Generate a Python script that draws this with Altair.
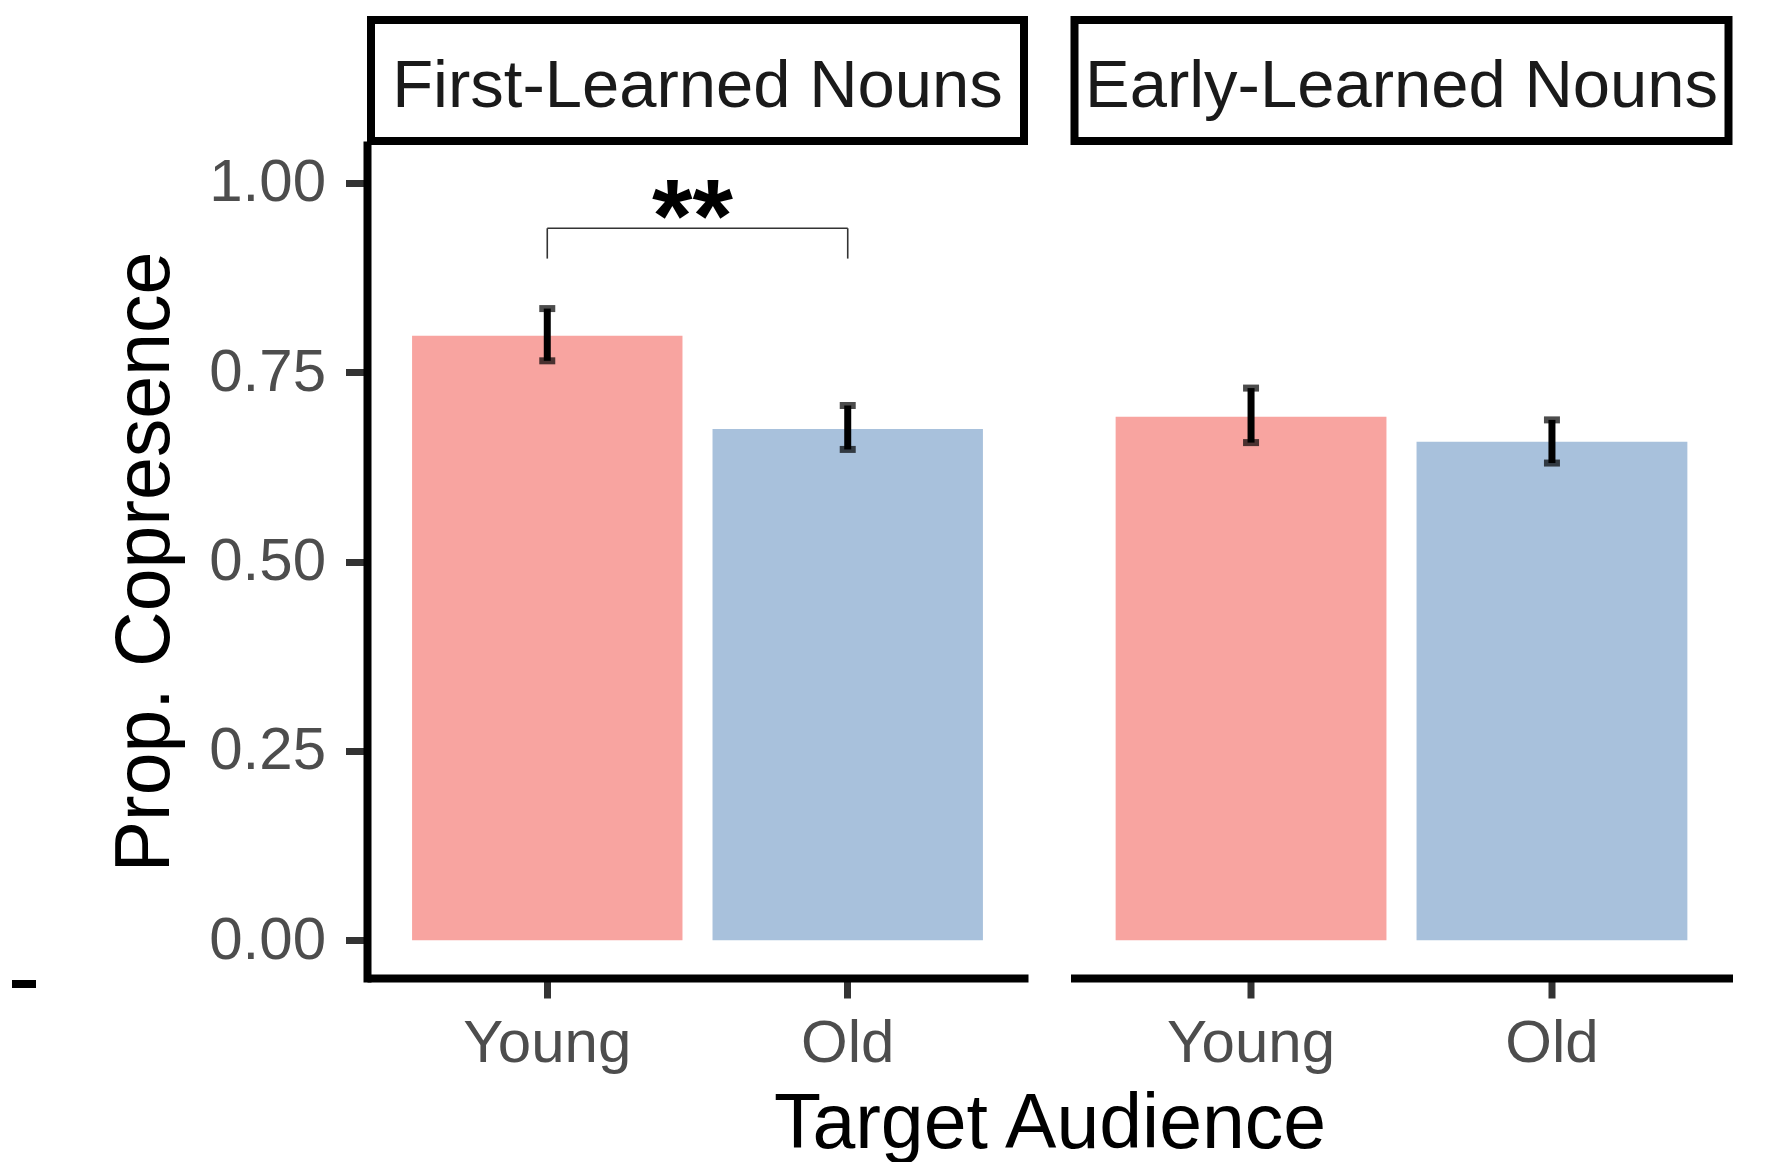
import altair as alt
import pandas as pd

# ---- data ----
panels = ["First-Learned Nouns", "Early-Learned Nouns"]
audience = ["Young", "Old"]
first_means = [0.798, 0.675]
first_lower = [0.765, 0.648]
first_upper = [0.834, 0.706]
early_means = [0.691, 0.658]
early_lower = [0.657, 0.630]
early_upper = [0.729, 0.687]
y_ticks = [0.0, 0.25, 0.50, 0.75, 1.00]
sig_label = "**"
sig_top = 0.940
sig_tip = 0.900

colors = ["#F8A4A0", "#A8C1DC"]
FONT = "Liberation Sans"
H = 833
W1 = 661
W2 = 662
LABEL_SIZE = 60
TITLE_SIZE = 77


def make_panel(name, means, lower, upper, width, first):
    df = pd.DataFrame({"audience": audience, "prop": means, "lo": lower, "hi": upper})
    if first:
        yaxis = alt.Axis(values=y_ticks, format=".2f", title="Prop. Copresence",
                         titleFont=FONT, titleFontSize=TITLE_SIZE, titleFontWeight="normal",
                         titleColor="black", titlePadding=24,
                         labelFont=FONT, labelFontSize=LABEL_SIZE, labelColor="#4d4d4d",
                         labelPadding=20, tickSize=21.5, tickWidth=7, tickColor="#333333",
                         domainColor="black", domainWidth=8, domainCap="square", grid=False)
        xaxis = alt.Axis(title="Target Audience", titleFont=FONT, titleFontSize=TITLE_SIZE,
                         titleFontWeight="normal", titleColor="black", titlePadding=13,
                         titleX=682.5, labelAngle=0, labelFont=FONT, labelFontSize=LABEL_SIZE,
                         labelColor="#4d4d4d", labelPadding=16, tickSize=20, tickWidth=7,
                         tickColor="#333333", domainColor="black", domainWidth=8, grid=False)
    else:
        yaxis = None
        xaxis = alt.Axis(title=None, labelAngle=0, labelFont=FONT, labelFontSize=LABEL_SIZE,
                         labelColor="#4d4d4d", labelPadding=16, tickSize=20, tickWidth=7,
                         tickColor="#333333", domainColor="black", domainWidth=8, grid=False)

    xenc = alt.X("audience:N", sort=audience,
                 scale=alt.Scale(domain=audience, paddingInner=0.1, paddingOuter=0.15),
                 axis=xaxis)
    yscale = alt.Scale(domain=[-0.05, 1.05], nice=False, zero=False)

    base = alt.Chart(df)
    bars = base.mark_bar().encode(
        x=xenc,
        y=alt.Y("prop:Q", scale=yscale, axis=yaxis),
        y2=alt.datum(0),
        color=alt.Color("audience:N", scale=alt.Scale(domain=audience, range=colors), legend=None),
    )
    err = base.mark_rule(color="black", strokeWidth=7).encode(
        x=alt.X("audience:N", sort=audience), y="lo:Q", y2="hi:Q")
    cap_lo = base.mark_tick(color="black", thickness=7, size=16).encode(
        x=alt.X("audience:N", sort=audience), y="lo:Q")
    cap_hi = base.mark_tick(color="black", thickness=7, size=16).encode(
        x=alt.X("audience:N", sort=audience), y="hi:Q")

    strip_df = pd.DataFrame({"label": [name]})
    strip_box = alt.Chart(strip_df).mark_rect(fill="white", stroke="black", strokeWidth=8).encode(
        x=alt.value(4), x2=alt.value(width - 4), y=alt.value(-125), y2=alt.value(-4))
    strip_txt = alt.Chart(strip_df).mark_text(font=FONT, fontSize=67, color="#1a1a1a",
                                              baseline="alphabetic", align="center").encode(
        x=alt.value(width / 2), y=alt.value(-38), text="label:N")

    layers = [bars, err, cap_lo, cap_hi, strip_box, strip_txt]

    if first:
        br = pd.DataFrame({"audience": audience, "top": [sig_top, sig_top], "tip": [sig_tip, sig_tip]})
        br_h = alt.Chart(pd.DataFrame({"a": [audience[0]], "b": [audience[1]], "top": [sig_top]})).mark_rule(
            color="#333333", strokeWidth=1.6).encode(
            x=alt.X("a:N", sort=audience), x2="b:N", y="top:Q")
        br_v = alt.Chart(br).mark_rule(color="#333333", strokeWidth=1.6).encode(
            x=alt.X("audience:N", sort=audience), y="top:Q", y2="tip:Q")
        star = alt.Chart(pd.DataFrame({"label": [sig_label], "top": [sig_top]})).mark_text(
            font=FONT, fontSize=104, fontWeight="bold", color="black",
            baseline="alphabetic", align="center", dy=24).encode(
            x=alt.value(width / 2 - 5), y="top:Q", text="label:N")
        dash = alt.Chart(pd.DataFrame({"d": [0]})).mark_rule(color="black", strokeWidth=8).encode(
            x=alt.value(-355), x2=alt.value(-331), y=alt.value(839))
        layers += [br_h, br_v, star, dash]

    return alt.layer(*layers).properties(width=width, height=H)


p1 = make_panel(panels[0], first_means, first_lower, first_upper, W1, True)
p2 = make_panel(panels[1], early_means, early_lower, early_upper, W2, False)

chart = alt.hconcat(p1, p2, spacing=42.5, bounds="flush").properties(
    padding={"left": 0, "top": 8, "right": 5, "bottom": 0}
).configure_view(strokeWidth=0)

chart.save("out.html", embed_options={"renderer": "svg", "actions": False})
